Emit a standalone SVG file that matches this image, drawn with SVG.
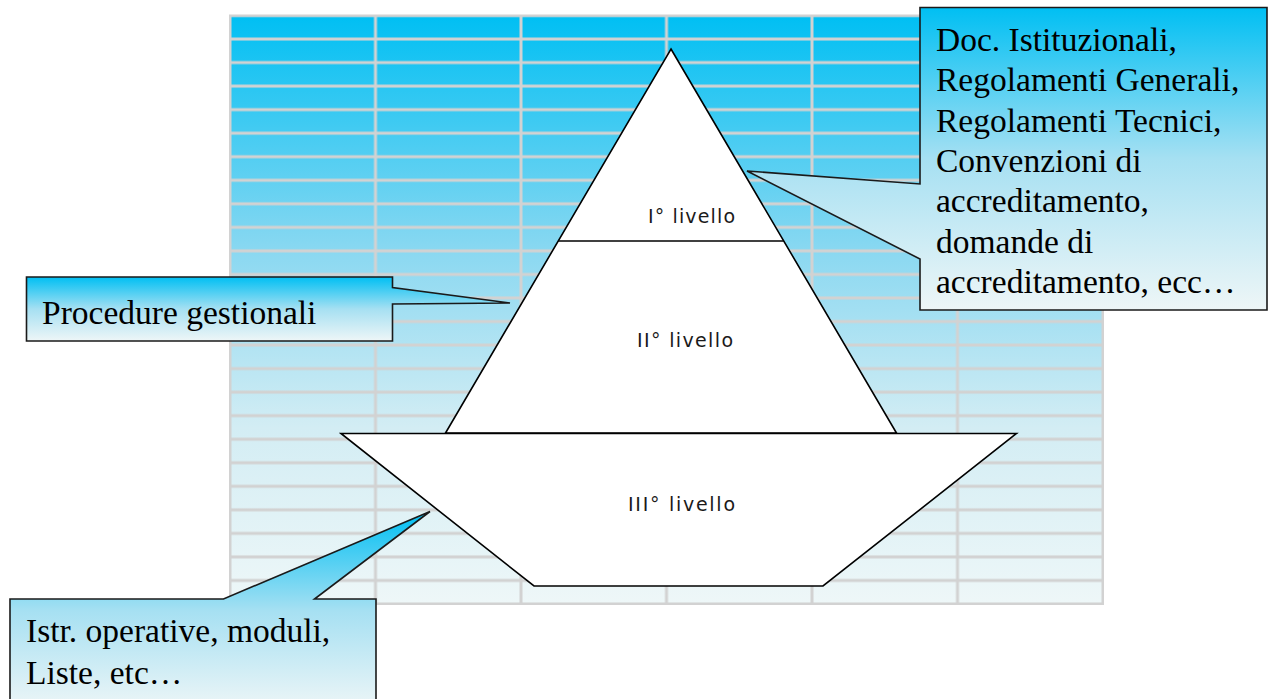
<svg xmlns="http://www.w3.org/2000/svg" width="1269" height="699" viewBox="0 0 1269 699">
<defs>
<linearGradient id="gridGrad" x1="0" y1="0" x2="0" y2="1">
<stop offset="0" stop-color="#00BFF3"/>
<stop offset="0.4" stop-color="#8AD8F1"/>
<stop offset="0.7" stop-color="#D3EDF4"/>
<stop offset="1" stop-color="#EEF7F8"/>
</linearGradient>
<linearGradient id="calloutGrad" x1="0" y1="0" x2="0" y2="1">
<stop offset="0" stop-color="#00BFF3"/>
<stop offset="0.5" stop-color="#A6E0F2"/>
<stop offset="1" stop-color="#EEF6F7"/>
</linearGradient>
<pattern id="cells" x="230" y="15.5" width="145.5" height="23.54" patternUnits="userSpaceOnUse">
<rect x="0" y="0" width="145.5" height="23.54" fill="none" stroke="#D2D2D2" stroke-width="3"/>
</pattern>
</defs>
<style>
.shape{fill:#FFFFFF;stroke:#000000;stroke-width:1.6;stroke-linejoin:miter}
.callout{fill:url(#calloutGrad);stroke:#1A1A1A;stroke-width:1.6;stroke-linejoin:miter}
.lvl{font-family:"DejaVu Sans","Liberation Sans",sans-serif;font-size:19px;fill:#1A1A1A}
.ct{font-family:"Liberation Serif","Times New Roman",serif;font-size:33.5px;fill:#000000}
</style>
<rect width="1269" height="699" fill="#FFFFFF"/>
<g id="background-grid">
<rect x="230" y="15.5" width="873" height="588.5" fill="url(#gridGrad)"/>
<rect x="230" y="15.5" width="873" height="588.5" fill="url(#cells)"/>
<rect x="230" y="15.5" width="873" height="588.5" fill="none" stroke="#D2D2D2" stroke-width="2"/>
</g>
<g id="level-1-2">
<polygon class="shape" points="671,49 896.5,433 445.5,433"/>
<line x1="558.3" y1="241" x2="783.7" y2="241" stroke="#000" stroke-width="1.6"/>
<text class="lvl" x="648" y="223" textLength="87" lengthAdjust="spacing">I° livello</text>
<text class="lvl" x="637" y="347" textLength="96" lengthAdjust="spacing">II° livello</text>
</g>
<g id="level-3">
<polygon class="shape" points="341,433.5 1016.5,433.5 823,586 534,586"/>
<text class="lvl" x="628" y="511" textLength="107" lengthAdjust="spacing">III° livello</text>
</g>
<g id="connectors"></g>
<g id="callout-docs">
<path class="callout" d="M920,7.5 H1267 V310 H920 V259 L747,171 L920,184 Z"/>
<text class="ct" x="936" y="51">Doc. Istituzionali,</text>
<text class="ct" x="936" y="91">Regolamenti Generali,</text>
<text class="ct" x="936" y="131.5">Regolamenti Tecnici,</text>
<text class="ct" x="936" y="172">Convenzioni di</text>
<text class="ct" x="936" y="212">accreditamento,</text>
<text class="ct" x="936" y="252.5">domande di</text>
<text class="ct" x="936" y="293">accreditamento, ecc…</text>
</g>
<g id="callout-procedure">
<path class="callout" d="M26.5,277 H392.5 V287.5 L510,303 L392.5,304 V341 H26.5 Z"/>
<text class="ct" x="42" y="324">Procedure gestionali</text>
</g>
<g id="callout-istr">
<path class="callout" d="M10,599 H223.5 L430,511.5 L314.5,599 H376 V710 H10 Z"/>
<text class="ct" x="26" y="642">Istr. operative, moduli,</text>
<text class="ct" x="26" y="684">Liste, etc…</text>
</g>
</svg>
